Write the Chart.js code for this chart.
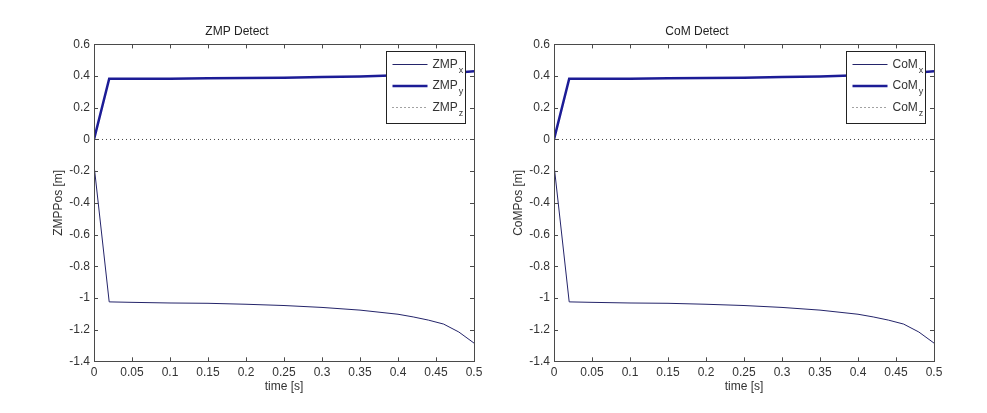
<!DOCTYPE html>
<html>
<head>
<meta charset="utf-8">
<script src="https://cdn.jsdelivr.net/npm/chart.js@4.4.1/dist/chart.umd.min.js"></script>
<style>
  body { margin: 0; background: #fff; width: 987px; height: 413px; overflow: hidden; position: relative; }
  .panel { position: absolute; top: 0; width: 494px; height: 413px; }
</style>
</head>
<body>
<div class="panel" style="left:0px"><canvas id="zmpChart" width="494" height="413"></canvas></div>
<div class="panel" style="left:460px"><canvas id="comChart" width="494" height="413"></canvas></div>
<script>
// time samples [s]
const time = [0, 0.02, 0.05, 0.1, 0.15, 0.2, 0.25, 0.3, 0.35, 0.4, 0.42, 0.44, 0.46, 0.48, 0.5];

// ZMP detect
const zmpX = [-0.16, -1.025, -1.028, -1.032, -1.034, -1.04, -1.048, -1.06, -1.077, -1.103, -1.12, -1.14, -1.165, -1.215, -1.285];
const zmpY = [0.0, 0.383, 0.383, 0.384, 0.386, 0.388, 0.39, 0.394, 0.398, 0.405, 0.408, 0.412, 0.417, 0.423, 0.43];
const zmpZ = [0, 0, 0, 0, 0, 0, 0, 0, 0, 0, 0, 0, 0, 0, 0];

// CoM detect
const comX = [-0.16, -1.025, -1.028, -1.032, -1.034, -1.04, -1.048, -1.06, -1.077, -1.103, -1.12, -1.14, -1.165, -1.215, -1.285];
const comY = [0.0, 0.383, 0.383, 0.384, 0.386, 0.388, 0.39, 0.394, 0.398, 0.405, 0.408, 0.412, 0.417, 0.423, 0.43];
const comZ = [0, 0, 0, 0, 0, 0, 0, 0, 0, 0, 0, 0, 0, 0, 0];

const xTicks = [0, 0.05, 0.1, 0.15, 0.2, 0.25, 0.3, 0.35, 0.4, 0.45, 0.5];
const yTicks = [-1.4, -1.2, -1, -0.8, -0.6, -0.4, -0.2, 0, 0.2, 0.4, 0.6];

const FONT = "'Liberation Sans', Arial, sans-serif";

function toPoints(values) {
    return values.map((v, i) => ({ x: time[i], y: v }));
}

// box around the axes with inward ticks on all four sides
const boxTicks = {
    id: 'boxTicks',
    afterDatasetsDraw(chart) {
        const ctx = chart.ctx;
        const a = chart.chartArea;
        const xs = chart.scales.x, ys = chart.scales.y;
        ctx.save();
        ctx.strokeStyle = '#4a4a4a';
        ctx.lineWidth = 1;
        ctx.beginPath();
        xTicks.forEach(t => {
            const px = Math.round(xs.getPixelForValue(t)) + 0.5;
            ctx.moveTo(px, a.bottom); ctx.lineTo(px, a.bottom - 4);
            ctx.moveTo(px, a.top); ctx.lineTo(px, a.top + 4);
        });
        yTicks.forEach(t => {
            const py = Math.round(ys.getPixelForValue(t)) + 0.5;
            ctx.moveTo(a.left, py); ctx.lineTo(a.left + 4, py);
            ctx.moveTo(a.right, py); ctx.lineTo(a.right - 4, py);
        });
        ctx.stroke();
        ctx.strokeRect(Math.round(a.left) + 0.5, Math.round(a.top) + 0.5,
            Math.round(a.right - a.left), Math.round(a.bottom - a.top));
        ctx.restore();
    }
};

// matlab style legend in the upper right corner, labels with subscripts
const boxLegend = {
    id: 'boxLegend',
    afterDraw(chart) {
        const ctx = chart.ctx;
        const a = chart.chartArea;
        const left = Math.round(a.right - 88) + 0.5, top = Math.round(a.top + 7) + 0.5;
        const w = 79, h = 72;
        ctx.save();
        ctx.fillStyle = '#fff';
        ctx.fillRect(left, top, w, h);
        ctx.strokeStyle = '#222';
        ctx.lineWidth = 1;
        ctx.strokeRect(left, top, w, h);
        chart.data.datasets.forEach((ds, i) => {
            const cy = top + 13 + i * 21.5;
            ctx.strokeStyle = ds.borderColor;
            ctx.lineWidth = ds.borderWidth;
            ctx.setLineDash(ds.borderDash || []);
            ctx.beginPath();
            ctx.moveTo(left + 6, cy);
            ctx.lineTo(left + 41, cy);
            ctx.stroke();
            ctx.setLineDash([]);
            const [main, sub] = ds.label.split('_');
            ctx.fillStyle = '#333';
            ctx.textBaseline = 'middle';
            ctx.textAlign = 'left';
            ctx.font = '12px ' + FONT;
            ctx.fillText(main, left + 46, cy);
            const mw = ctx.measureText(main).width;
            ctx.font = '9px ' + FONT;
            ctx.fillText(sub, left + 46 + mw + 1, cy + 6);
        });
        ctx.restore();
    }
};

function makeChart(id, title, yLabel, names, xs, yv, zs) {
    return new Chart(document.getElementById(id), {
        type: 'line',
        data: {
            datasets: [
                {
                    label: names[0],
                    data: toPoints(xs),
                    borderColor: '#24246a',
                    borderWidth: 1,
                    pointRadius: 0
                },
                {
                    label: names[1],
                    data: toPoints(yv),
                    borderColor: '#1c1c96',
                    borderWidth: 2.5,
                    pointRadius: 0
                },
                {
                    label: names[2],
                    data: toPoints(zs),
                    borderColor: '#444',
                    borderWidth: 1,
                    borderDash: [1, 3],
                    pointRadius: 0
                }
            ]
        },
        options: {
            responsive: false,
            animation: false,
            layout: { padding: { left: 0, right: 20, top: 0, bottom: 0 } },
            plugins: {
                legend: { display: false },
                tooltip: { enabled: false },
                title: {
                    display: true,
                    text: title,
                    color: '#222',
                    font: { family: FONT, size: 12, weight: 'normal', lineHeight: 1.2 },
                    padding: { top: 24, bottom: 6 }
                }
            },
            scales: {
                x: {
                    type: 'linear',
                    min: 0,
                    max: 0.5,
                    afterBuildTicks: s => { s.ticks = xTicks.map(v => ({ value: v })); },
                    afterFit: s => { s.height = 51.7; },
                    grid: { display: false, drawTicks: false },
                    border: { display: false },
                    ticks: {
                        color: '#333',
                        padding: 4,
                        maxRotation: 0,
                        autoSkip: false,
                        font: { family: FONT, size: 12 },
                        callback: v => String(v)
                    },
                    title: {
                        display: true,
                        text: 'time [s]',
                        color: '#333',
                        font: { family: FONT, size: 12, lineHeight: 1.2 },
                        padding: { top: 0, bottom: 19 }
                    }
                },
                y: {
                    min: -1.4,
                    max: 0.6,
                    afterBuildTicks: s => { s.ticks = yTicks.map(v => ({ value: v })); },
                    afterFit: s => { s.width = 94; },
                    grid: { display: false, drawTicks: false },
                    border: { display: false },
                    ticks: {
                        color: '#333',
                        padding: 4,
                        autoSkip: false,
                        font: { family: FONT, size: 12 },
                        callback: v => String(Math.round(v * 10) / 10)
                    },
                    title: {
                        display: true,
                        text: yLabel,
                        color: '#333',
                        font: { family: FONT, size: 12, lineHeight: 1.2 },
                        padding: { top: 51, bottom: 0 }
                    }
                }
            }
        },
        plugins: [boxTicks, boxLegend]
    });
}

makeChart('zmpChart', 'ZMP Detect', 'ZMPPos [m]', ['ZMP_x', 'ZMP_y', 'ZMP_z'], zmpX, zmpY, zmpZ);
makeChart('comChart', 'CoM Detect', 'CoMPos [m]', ['CoM_x', 'CoM_y', 'CoM_z'], comX, comY, comZ);
</script>
</body>
</html>
